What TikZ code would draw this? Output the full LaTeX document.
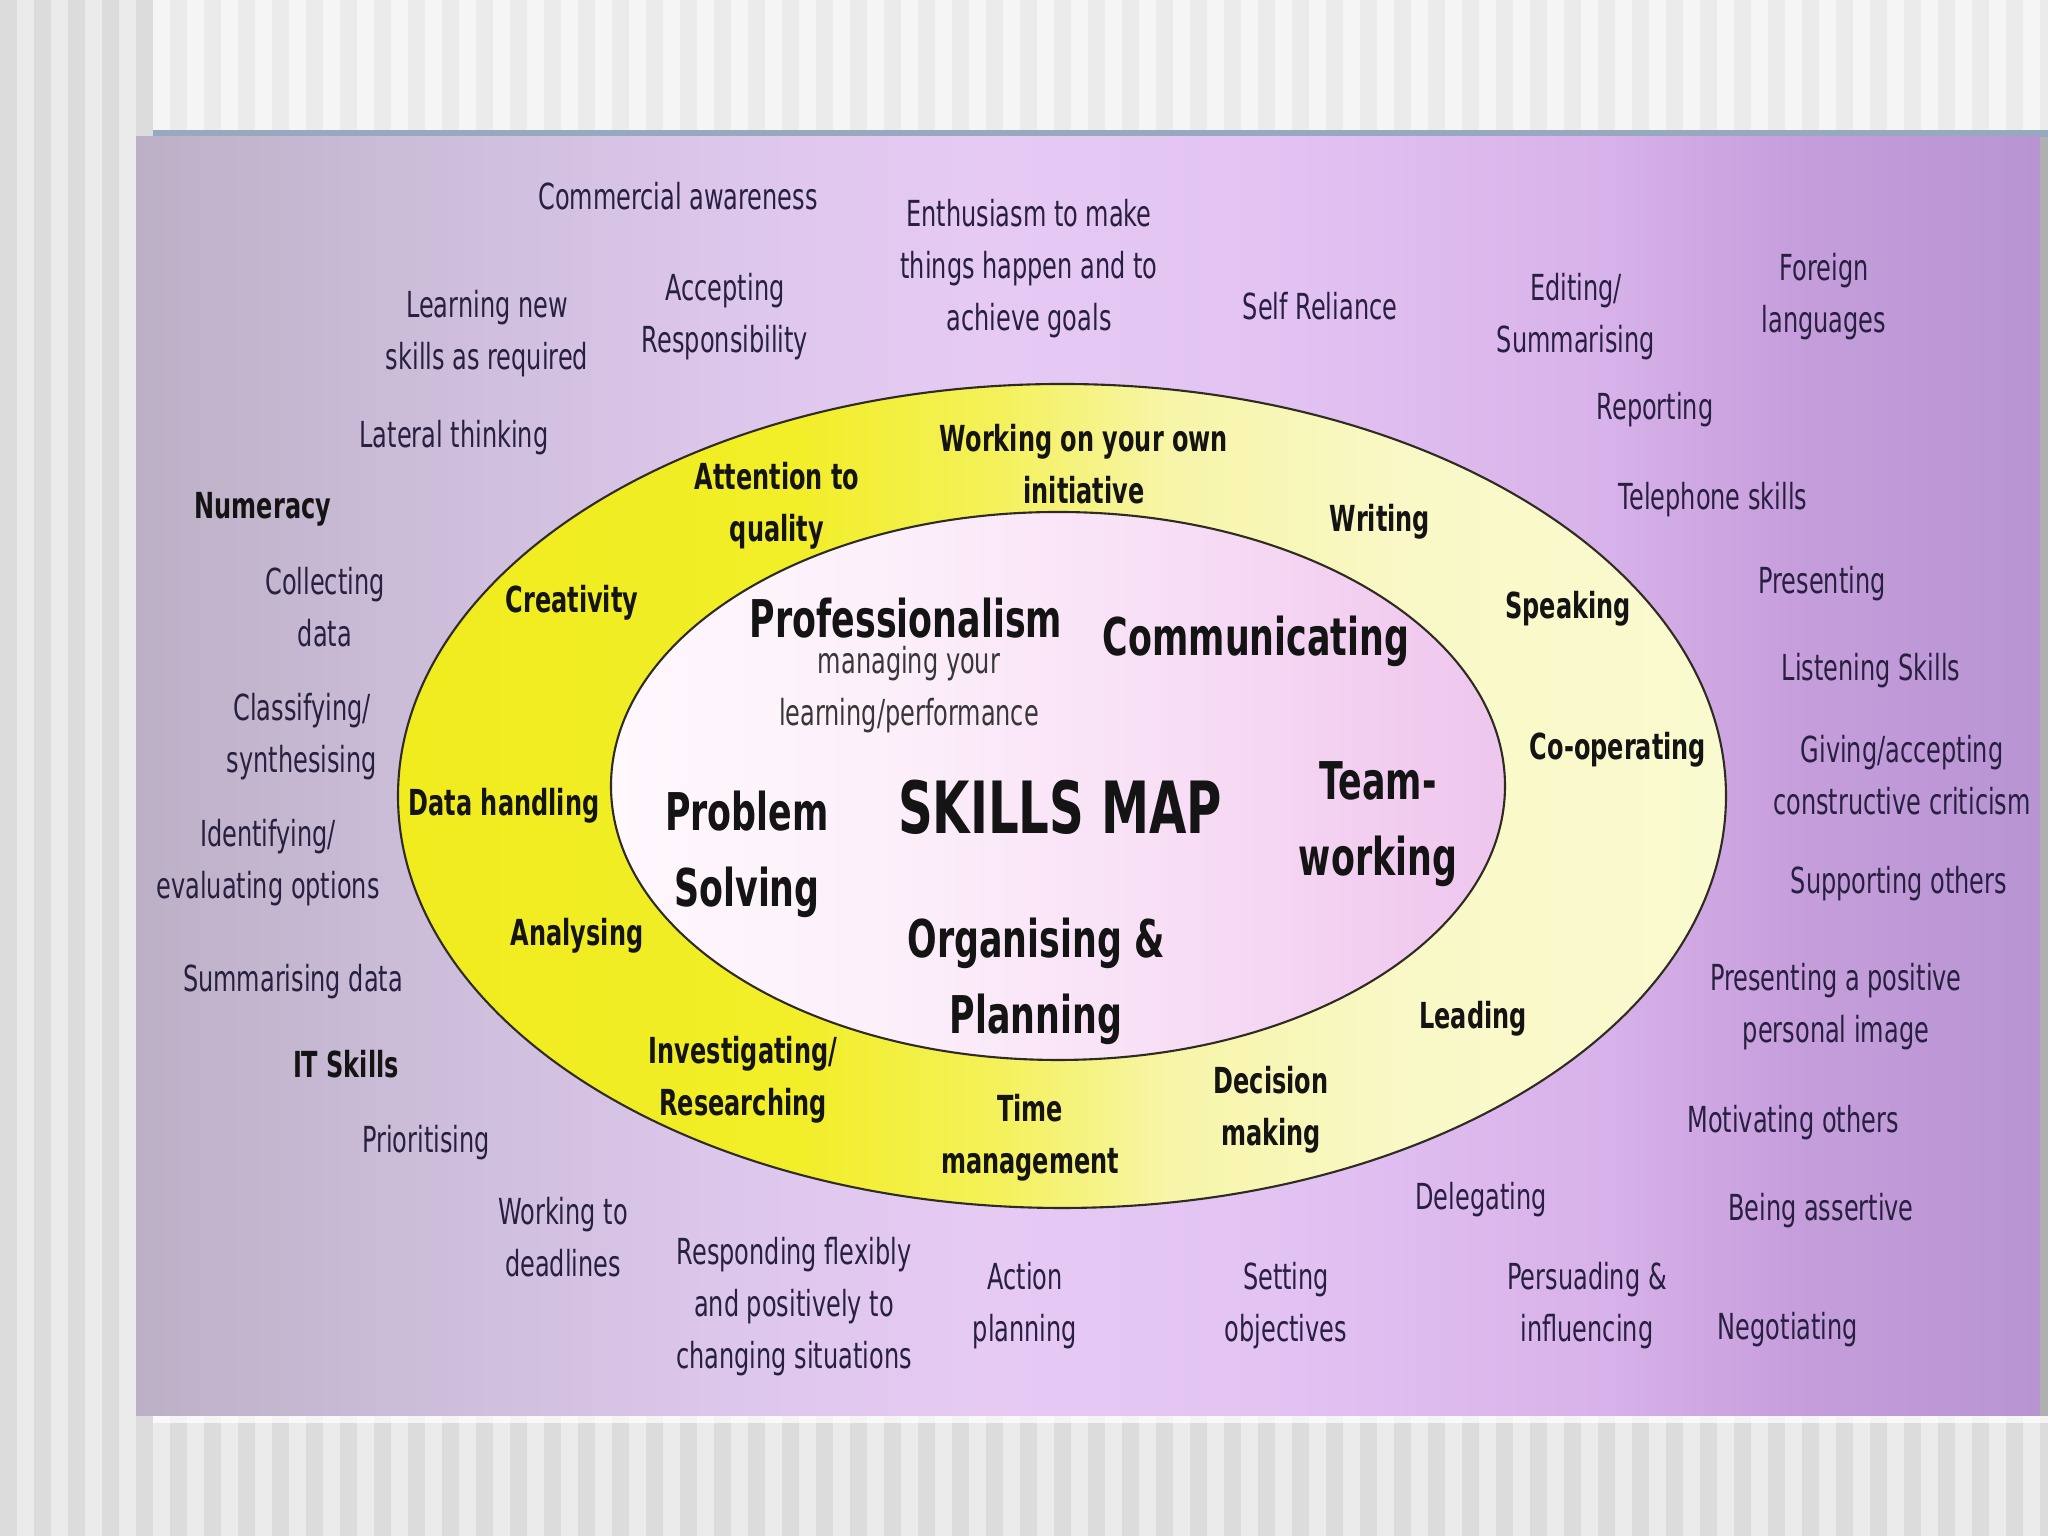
\documentclass[tikz,border=0pt]{standalone}
\usepackage{fontspec}
\setmainfont{DejaVu Sans}[FakeStretch=0.67]

\definecolor{skillink}{HTML}{282040}
\definecolor{ringink}{HTML}{141414}
\definecolor{rimline}{HTML}{2E2C22}
\definecolor{stripedark}{HTML}{DCDCDC}
\definecolor{stripelight}{HTML}{EBEBEB}
\definecolor{toplight}{HTML}{F5F5F5}
\definecolor{topdark}{HTML}{EBEBEB}
\definecolor{titlerule}{HTML}{97A9BF}

\definecolor{pan0}{HTML}{BCB0C6}
\definecolor{pan1}{HTML}{CBBCD8}
\definecolor{pan2}{HTML}{DCC6EA}
\definecolor{pan3}{HTML}{E6CAF4}
\definecolor{pan4}{HTML}{E2C2F2}
\definecolor{pan5}{HTML}{D8B2EA}
\definecolor{pan6}{HTML}{C69EDC}
\definecolor{pan7}{HTML}{B894D2}
\pgfdeclarehorizontalshading{panelshade}{100bp}{color(0bp)=(pan0); color(25bp)=(pan0); color(32bp)=(pan1); color(40bp)=(pan2); color(47.5bp)=(pan3); color(55.5bp)=(pan4); color(63.5bp)=(pan5); color(68.5bp)=(pan6); color(75bp)=(pan7); color(100bp)=(pan7)}

\definecolor{ring0}{HTML}{F0EC1E}
\definecolor{ring1}{HTML}{F2EE28}
\definecolor{ring2}{HTML}{F4F15A}
\definecolor{ring3}{HTML}{F7F5A8}
\definecolor{ring4}{HTML}{F9F8C6}
\definecolor{ring5}{HTML}{FAFAD0}
\pgfdeclarehorizontalshading{ringshade}{100bp}{color(0bp)=(ring0); color(25bp)=(ring0); color(40bp)=(ring1); color(47.5bp)=(ring2); color(54bp)=(ring3); color(62.5bp)=(ring4); color(75bp)=(ring5); color(100bp)=(ring5)}

\definecolor{core0}{HTML}{FFF8FD}
\definecolor{core1}{HTML}{FCF0FA}
\definecolor{core2}{HTML}{F8E0F6}
\definecolor{core3}{HTML}{F2CEF0}
\definecolor{core4}{HTML}{EEC6EE}
\pgfdeclarehorizontalshading{coreshade}{100bp}{color(0bp)=(core0); color(25bp)=(core0); color(40bp)=(core1); color(55bp)=(core2); color(67.5bp)=(core3); color(75bp)=(core4); color(100bp)=(core4)}

\tikzset{
  skill/.style={text=skillink, align=center, inner sep=0pt, yshift=-0.4mm, font=\fontsize{10.2}{14.8}\selectfont},
  skillbold/.style={skill, text=ringink, font=\fontsize{10.2}{14.8}\selectfont\bfseries},
  ringskill/.style={text=ringink, align=center, inner sep=0pt, yshift=-0.4mm, font=\fontsize{10.2}{14.8}\selectfont\bfseries},
  core/.style={text=ringink, align=center, inner sep=0pt, yshift=-0.4mm, font=\fontsize{14.8}{21.6}\selectfont\bfseries},
  maptitle/.style={core, font=\fontsize{20.5}{24}\selectfont\bfseries},
}

\begin{document}
\begin{tikzpicture}

  \useasboundingbox (0,0) rectangle (20.48,15.36);

  \fill[stripelight] (0,0) rectangle (20.48,15.36);
  \foreach \k in {0,...,60}
    \fill[stripedark] (0.34*\k,0) rectangle ++(0.17,15.36);

  \fill[toplight] (1.53,14.06) rectangle (20.48,15.36);
  \foreach \k in {5,...,60}
    \fill[topdark] (0.34*\k,14.06) rectangle ++(0.17,1.30);

  \fill[titlerule] (1.53,13.99) rectangle (20.48,14.06);
  \fill[white, opacity=0.7] (1.53,1.13) rectangle (20.48,1.20);
  \shade[shading=panelshade] (1.36,1.20) rectangle (20.40,13.99);
  \fill[black!20!stripedark] (20.40,1.20) rectangle (20.48,13.99);

  \shadedraw[shading=ringshade, draw=rimline, line width=0.6pt] (10.62,7.40) ellipse [x radius=6.64, y radius=4.12];
  \shadedraw[shading=coreshade, draw=rimline, line width=0.6pt] (10.58,7.50) ellipse [x radius=4.47, y radius=2.74];

  \node[skill] (commercial) at (6.78,13.44) {Commercial awareness};
  \node[skill] (enthusiasm) at (10.29,12.71) {Enthusiasm to make\\things happen and to\\achieve goals};
  \node[skill] (learning) at (4.87,12.06) {Learning new\\skills as required};
  \node[skill] (accepting) at (7.25,12.23) {Accepting\\Responsibility};
  \node[skill] (reliance) at (13.20,12.34) {Self Reliance};
  \node[skill] (editing) at (15.76,12.23) {Editing/\\Summarising};
  \node[skill] (foreign) at (18.24,12.43) {Foreign\\languages};
  \node[skill] (reporting) at (16.55,11.30) {Reporting};
  \node[skill] (lateral) at (4.54,11.02) {Lateral thinking};
  \node[skillbold] (numeracy) at (2.63,10.31) {Numeracy};
  \node[skill] (telephone) at (17.13,10.40) {Telephone skills};
  \node[skill] (collecting) at (3.25,9.33) {Collecting\\data};
  \node[skill] (presenting) at (18.22,9.56) {Presenting};
  \node[skill] (classifying) at (3.02,8.03) {Classifying/\\synthesising};
  \node[skill] (listening) at (18.71,8.69) {Listening Skills};
  \node[skill] (giving) at (19.02,7.65) {Giving/accepting\\constructive criticism};
  \node[skill] (identifying) at (2.68,6.77) {Identifying/\\evaluating options};
  \node[skill] (supporting) at (18.99,6.56) {Supporting others};
  \node[skill] (summarising) at (2.93,5.58) {Summarising data};
  \node[skill] (image) at (18.36,5.33) {Presenting a positive\\personal image};
  \node[skillbold] (itskills) at (3.46,4.76) {IT Skills};
  \node[skill] (prioritising) at (4.26,3.97) {Prioritising};
  \node[skill] (motivating) at (17.93,4.17) {Motivating others};
  \node[skill] (deadlines) at (5.63,3.03) {Working to\\deadlines};
  \node[skill] (delegating) at (14.81,3.40) {Delegating};
  \node[skill] (assertive) at (18.21,3.29) {Being assertive};
  \node[skill] (responding) at (7.94,2.33) {Responding flexibly\\and positively to\\changing situations};
  \node[skill] (action) at (10.25,2.34) {Action\\planning};
  \node[skill] (objectives) at (12.86,2.34) {Setting\\objectives};
  \node[skill] (persuading) at (15.87,2.34) {Persuading \&\\influencing};
  \node[skill] (negotiating) at (17.88,2.10) {Negotiating};

  \node[ringskill] (initiative) at (10.84,10.76) {Working on your own\\initiative};
  \node[ringskill] (quality) at (7.77,10.34) {Attention to\\quality};
  \node[ringskill] (writing) at (13.80,10.18) {Writing};
  \node[ringskill] (creativity) at (5.72,9.37) {Creativity};
  \node[ringskill] (speaking) at (15.68,9.31) {Speaking};
  \node[ringskill] (cooperating) at (16.18,7.90) {Co-operating};
  \node[ringskill] (datahandling) at (5.04,7.34) {Data handling};
  \node[ringskill] (analysing) at (5.77,6.04) {Analysing};
  \node[ringskill] (leading) at (14.73,5.21) {Leading};
  \node[ringskill] (investigating) at (7.43,4.60) {Investigating/\\Researching};
  \node[ringskill] (decision) at (12.71,4.30) {Decision\\making};
  \node[ringskill] (time) at (10.30,4.02) {Time\\management};

  \node[core] (professionalism) at (9.06,9.22) {Professionalism};
  \node[skill, text=ringink!85] (managing) at (9.09,8.50) {managing your\\learning/performance};
  \node[core] (communicating) at (12.56,8.99) {Communicating};
  \node[core] (problem) at (7.47,6.86) {Problem\\Solving};
  \node[maptitle] (skillsmap) at (10.60,7.33) {SKILLS MAP};
  \node[core] (teamworking) at (13.78,7.16) {Team-\\working};
  \node[core] (organising) at (10.36,5.59) {Organising \&\\Planning};

\end{tikzpicture}
\end{document}
